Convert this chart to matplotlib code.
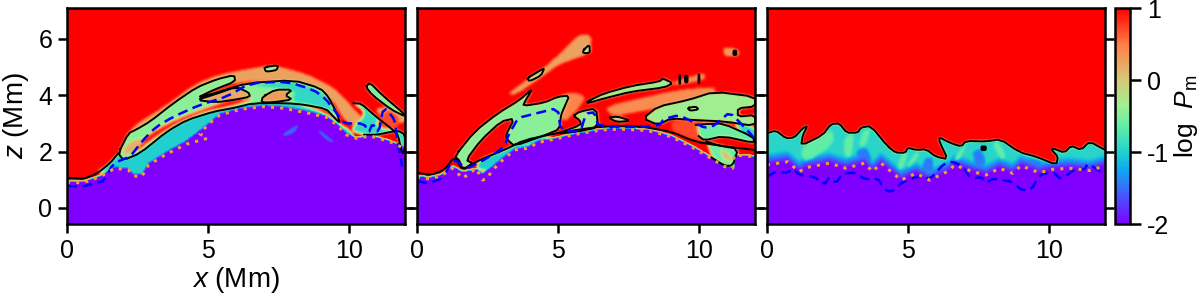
import numpy as np
import matplotlib
matplotlib.use("Agg")
import matplotlib.pyplot as plt
from matplotlib.path import Path
from matplotlib.colors import LinearSegmentedColormap, Normalize
from matplotlib.cm import ScalarMappable

plt.rcParams['font.family'] = ['Liberation Sans', 'DejaVu Sans']
plt.rcParams['mathtext.fontset'] = 'custom'
plt.rcParams['mathtext.it'] = 'Liberation Sans:italic'
plt.rcParams['mathtext.rm'] = 'Liberation Sans'

cbar_colors = ['#8000ff', '#4a50ff', '#10a8f0', '#20d0d0', '#60eea8', '#a0f090', '#d8c878', '#ff8048', '#ff0000']
cbar_stops = [0.0, 0.12, 0.25, 0.33, 0.45, 0.55, 0.67, 0.83, 1.0]
xticks = [0, 5, 10]
zticks = [0, 2, 4, 6]
cticks = [-2, -1, 0, 1]

# ---------- panel 1 (x, z in Mm) ----------
p1_surface = [(0,.9),(.58,.9),(1.17,1.11),(1.7,1.41),(2.18,1.35),(2.36,1.14),(2.65,1.11),(2.9,1.53),(3.54,1.92),(4.25,2.27),(4.98,2.47),(4.72,2.63),(5.02,2.98),(5.43,3.3),(6.15,3.5),(6.97,3.6),(7.68,3.54),(8.51,3.38),(9.22,3.22),(9.58,2.95),(9.93,2.59),(10.29,2.47),(10.76,2.56),(11.47,2.35),(12,2.1)]
p1_fill_surface = [(0,.95),(.58,.95),(1.17,1.15),(1.7,1.45),(2.18,1.4),(2.36,1.2),(2.65,1.2),(2.9,1.6),(3.54,2.0),(4.25,2.4),(5.02,3.0),(5.43,3.35),(6.15,3.55),(6.97,3.65),(7.68,3.6),(8.51,3.45),(9.22,3.28),(9.58,3.0),(9.93,2.65),(10.29,2.5),(10.76,2.6),(11.47,2.4),(12,2.15)]
p1_blue = [(0,.78),(.58,.76),(1.05,.9),(1.3,.95),(1.65,1.59),(2.24,1.82),(2.7,2.41),(3.18,2.89),(3.78,3.24),(4.72,3.66),(5.67,3.95),(6.5,4.43),(7.8,4.49),(8.75,4.19),(9.17,3.89),(9.58,3.36),(9.82,3.0),(10.55,3.0),(10.7,2.65),(10.85,3.0),(11.06,2.65),(11.24,3.6),(11.65,3.12),(11.7,2.53),(11.9,1.47)]
p1_halo = [(2.0,2.45),(2.47,2.98),(3.4,3.55),(4.6,4.42),(5.4,4.72),(6.0,4.85),(7.3,5.07),(8.5,4.75),(9.5,4.25),(10.1,3.6),(10.6,3.05),(10.3,2.9),(9.9,3.05),(9.4,3.9),(8.5,4.5),(6,4.5),(4.6,4.0)]
p1_halo2 = [(10.9,3.5),(11.4,3.6),(12,3.4),(12,3.0),(11.4,3.1)]
p1_band = [(1.0,1.2),(1.53,1.59),(1.82,1.94),(2.5,2.0),(3.5,2.75),(4.25,3.15),(5.2,3.42),(6.62,3.72),(8.0,3.75),(9.1,3.4),(9.7,2.95),(10.0,2.8),(10.2,2.5),(9.9,2.5),(9.2,3.1),(8.5,3.3),(7.68,3.5),(6.15,3.45),(5.43,3.2),(4.98,2.9),(4.25,2.3),(3.54,1.9),(2.9,1.5),(2.65,1.1),(2.36,1.1),(2.18,1.3),(1.7,1.35)]
p1_main = [(1.82,1.94),(2.18,2.65),(2.47,2.79),(2.95,3.07),(3.78,3.72),(4.6,4.28),(5.32,4.57),(5.94,4.72),(5.97,4.49),(5.2,4.19),(4.6,3.9),(5.32,4.1),(6.38,4.43),(8.04,4.54),(8.99,4.25),(9.28,3.95),(9.58,3.36),(9.7,3.0),(9.45,3.25),(9.2,3.52),(8.4,3.67),(7.8,3.72),(6.62,3.72),(5.91,3.55),(5.2,3.42),(4.25,3.12),(3.54,2.71),(2.59,1.94),(2.0,1.7)]
p1_gap = [(4.6,3.87),(5.2,4.13),(5.97,4.42),(5.8,4.36),(5.2,4.2)]
p1_cyan = [(6.4,4.42),(8.04,4.5),(8.95,4.2),(9.25,3.9),(9.55,3.3),(9.1,3.55),(8.0,3.75),(8.1,4.2),(7.0,4.3)]
p1_redstrip = [(2.35,1.9),(3.0,2.4),(3.9,3.0),(4.9,3.42),(5.9,3.62),(6.7,3.9),(5.8,3.85),(5.0,3.58),(4.0,3.2),(3.2,2.8),(2.7,2.45)]
p1_orange = [(1.95,1.82),(2.4,2.0),(2.8,2.42),(2.4,2.45),(2.05,2.2)]
p1_upper = [(4.6,3.83),(5.3,4.05),(6.0,4.3),(6.45,4.1),(6.5,3.95),(6.0,3.85),(5.3,3.75)]
p1_patch = [(6.95,3.95),(7.4,4.2),(8.0,4.2),(7.75,4.0),(8.0,3.85),(7.3,3.75),(6.9,3.75)]
p1_top = [(0,1.05),(.2,1.07),(.58,1.03),(1.05,1.21),(1.53,1.59),(1.82,1.94)]
p1_island = [(7.0,5.0),(7.5,5.07),(7.45,4.9),(7.2,4.85),(7.05,4.85)]
p1_right1 = [(10.61,4.3),(10.75,4.45),(11.2,4.0),(11.95,3.36),(12,3.25),(11.5,3.5),(10.85,4.0)]
p1_right2 = [(10.17,3.72),(10.45,3.7),(10.9,3.3),(11.6,2.75),(11.75,2.6),(11.9,1.9),(12,2.1),(12,2.6),(11.75,2.75),(11.0,2.6),(10.55,2.6),(10.05,2.75),(10.5,3.2),(10.55,3.45)]
p1_redright = [(10.95,3.0),(11.4,3.55),(11.85,3.2),(11.7,2.8),(11.2,2.8)]
p1_blue_spots = [(7.6,2.6),(8.25,3.0),(8.1,2.7),(7.8,2.55)]
p1_blue_spot2 = [(9.0,2.75),(9.5,2.35),(9.3,2.35),(8.9,2.7)]

# ---------- panel 2 ----------
p2_surface = [(0,1.11),(.44,1.03),(.85,1.14),(1.27,1.41),(1.62,1.05),(2.1,1.41),(2.33,.99),(2.51,1.05),(2.63,1.29),(3.04,1.7),(3.46,2.06),(3.93,2.12),(4.29,2.32),(5.0,2.47),(5.71,2.63),(6.54,2.77),(7.25,2.8),(8.19,2.75),(9.02,2.53),(9.73,2.18),(10.44,1.76),(10.92,1.47),(11.21,1.41),(11.27,1.88),(12,1.82)]
p2_fill_surface = [(0,1.15),(.44,1.1),(.85,1.2),(1.27,1.5),(1.62,1.3),(2.1,1.4),(2.33,1.25),(2.63,1.45),(3.04,1.8),(3.46,2.1),(3.93,2.2),(4.29,2.4),(5.0,2.52),(5.71,2.68),(6.54,2.82),(7.25,2.85),(8.19,2.8),(9.02,2.58),(9.73,2.22),(10.44,1.8),(10.92,1.5),(11.21,1.45),(11.27,1.9),(12,1.85)]
p2_blue = [(0,.95),(.4,.88),(.9,1.05),(1.3,1.75),(1.75,1.4),(2.2,1.6),(3.1,2.15),(3.25,2.6),(3.6,3.2),(4.2,3.35),(5.0,3.55),(5.1,2.75),(5.8,2.7),(6.0,3.35),(6.3,3.4),(6.45,2.85),(8.6,2.9),(8.75,3.15),(9.3,3.3),(9.9,3.0),(10.2,2.85),(10.5,2.9),(10.7,3.05),(11.1,3.4),(11.6,2.9),(12,2.45)]
p2_lower_band = [(2.2,1.7),(3.1,2.06),(3.81,2.41),(4.94,2.65),(4.3,2.35),(3.5,2.05),(3.04,1.7),(2.5,1.3),(2.1,1.4)]
p2_lower = [(.0,1.25),(.5,1.17),(.97,1.35),(1.33,1.82),(1.62,1.35),(2.21,1.7),(3.1,2.06),(3.81,2.41),(4.94,2.65),(5.71,2.78),(6.54,2.89),(7.84,2.91),(9.02,2.71),(9.85,2.36),(10.74,2.21),(12,2.06)]
p2_plume = [(3.22,4.07),(4.5,4.95),(5.3,5.7),(5.71,6.14),(6.18,6.12),(6.12,5.5),(5.0,5.1),(4.5,4.72),(3.46,4.01)]
p2_plume_right = [(10.86,5.72),(11.4,5.62),(11.4,5.4),(10.86,5.4)]
p2_streak_top = [(9.1,4.5),(10.2,4.8),(10.2,4.55),(9.1,4.35)]
p2_streak_mid = [(6.65,3.6),(8.43,4.01),(9.26,4.19),(10.56,4.3),(10.56,4.1),(8.55,3.55),(6.9,3.25)]
p2_streak_cen = [(5.0,3.95),(5.5,4.12),(6.0,3.95),(5.6,3.4),(5.15,3.0)]
p2_a = [(1.33,1.82),(2.04,2.71),(2.87,3.36),(3.64,3.83),(4.11,4.25),(3.86,3.83),(3.76,3.62),(4.52,3.74),(5.0,3.95),(5.41,3.99),(5.24,3.6),(5.11,3.3),(5.06,2.8),(4.58,2.6),(3.46,2.2),(3.22,2.41),(3.14,2.56),(3.46,3.18),(2.98,3.07),(2.27,2.41),(1.74,1.7),(1.98,1.59),(1.62,1.35),(1.5,1.7)]
p2_b = [(6.04,3.78),(6.65,4.07),(7.6,4.33),(8.61,4.49),(8.73,4.6),(9.08,4.43),(8.79,4.28),(7.6,4.13),(6.65,3.89),(6.06,3.72)]
p2_c = [(8.02,3.18),(8.55,3.6),(9.62,3.83),(10.56,4.13),(12,3.95),(12,3.6),(11.39,3.54),(11.39,3.24),(12,3.3),(12,2.91),(10.92,3.07),(9.85,3.12),(9.02,3.18),(8.55,2.95)]
p2_d = [(5.55,3.27),(5.77,3.42),(6.36,3.54),(6.43,2.86),(5.71,2.71),(4.94,2.63),(5.83,2.95),(5.77,3.12)]
p2_e = [(9.9,2.95),(10.3,2.98),(10.86,3.0),(11.92,2.53),(12,2.3),(10.86,2.55),(10.2,2.4),(10.0,2.55)]
p2_f = [(10.27,2.36),(10.74,2.21),(11.4,2.1),(11.21,1.5),(10.92,1.5),(10.44,1.8)]
p2_f_orange = [(10.7,2.1),(11.1,1.9),(11.15,1.6),(10.85,1.75)]
p2_right_cyan = [(11.2,3.05),(12,2.85),(12,2.45),(11.5,2.7)]
p2_red_patch = [(9.0,3.15),(10.9,3.05),(10.9,2.6),(10.2,2.35),(9.85,2.4),(9.02,2.7)]
p2_loop1 = [(3.9,4.6),(4.4,4.9),(4.52,4.95),(4.4,4.7),(4.0,4.5)]
p2_loop2 = [(5.9,5.6),(6.12,5.8),(6.14,5.5),(5.9,5.5)]
p2_loop3 = [(6.8,3.2),(7.1,3.25),(7.6,3.1),(7.1,3.05)]
p2_loop4 = [(9.6,3.55),(9.9,3.6),(10.0,3.5),(9.7,3.45)]
p2_dot_a = [(11.22,5.6),(11.35,5.6),(11.35,5.42),(11.22,5.42)]
p2_dot_b = [(9.3,4.72),(9.36,4.72),(9.36,4.4),(9.3,4.4)]
p2_dot_c = [(9.5,4.7),(9.62,4.7),(9.62,4.45),(9.5,4.45)]
p2_dot_d = [(9.98,4.75),(10.04,4.75),(10.04,4.42),(9.98,4.42)]

# ---------- panel 3 ----------
p3_top = [(0,2.65),(.32,2.75),(.67,2.47),(.97,2.5),(1.27,2.83),(1.44,2.91),(1.27,2.59),(1.21,2.21),(1.98,2.59),(2.27,2.98),(2.57,3.0),(2.83,2.67),(3.22,2.67),(3.34,2.86),(3.69,2.91),(4.29,2.18),(4.58,1.96),(4.91,1.96),(5.0,2.14),(5.29,2.06),(5.65,2.08),(6.0,1.82),(6.42,1.73),(6.12,2.36),(6.12,2.51),(6.48,2.32),(6.89,2.18),(7.07,2.38),(7.78,2.36),(8.29,2.44),(8.96,1.98),(9.56,1.82),(10.27,1.53),(10.33,1.82),(10.11,2.06),(10.15,2.12),(10.56,1.96),(10.8,2.21),(11.15,2.06),(11.45,2.36),(12,2.06)]
p3_surface = [(0,1.53),(.73,1.64),(1.15,1.29),(1.38,1.43),(2.21,1.59),(2.8,1.41),(3.46,1.59),(3.75,1.29),(4.05,1.59),(4.76,.99),(5.29,1.23),(5.77,.99),(6.48,1.33),(6.65,1.53),(7.3,1.29),(7.78,1.17),(8.25,1.41),(8.72,1.23),(9.02,1.5),(9.67,1.25),(10.15,1.37),(10.74,1.41),(11.45,1.33),(12,1.49)]
p3_blue = [(0,1.11),(.32,1.29),(.73,1.25),(.91,1.41),(1.15,1.17),(1.68,1.11),(2.04,.82),(2.21,1.11),(2.45,.88),(2.69,1.23),(3.16,1.25),(3.46,1.02),(3.93,1.05),(4.11,.76),(4.29,.58),(4.52,.62),(4.82,.93),(5.53,1.17),(5.77,1.0),(6.3,1.59),(6.6,1.64),(6.95,1.47),(7.25,1.02),(7.6,1.11),(7.78,.88),(8.02,1.05),(8.73,.93),(9.02,.64),(9.38,.64),(9.67,1.17),(10.15,1.29),(10.44,1.0),(10.98,1.41),(11.27,1.35),(11.39,1.59),(12,1.17)]
p3_green1 = [(1.3,2.2),(2.3,2.85),(2.4,2.3),(1.4,1.6),(1.2,1.9)]
p3_green2 = [(2.75,2.55),(3.1,2.6),(3.0,1.8),(2.75,1.8)]
p3_green3 = [(3.4,2.75),(3.7,2.8),(3.5,2.2),(3.25,2.2)]
p3_green4 = [(4.75,1.85),(5.0,2.0),(4.85,1.4),(4.6,1.4)]
p3_green5 = [(5.25,1.95),(5.45,1.95),(5.1,1.45),(4.95,1.5)]
p3_green6 = [(6.9,2.1),(7.1,2.3),(6.85,1.7),(6.6,1.7)]
p3_green7 = [(8.0,2.3),(8.2,2.4),(8.5,1.8),(8.3,1.7)]
p3_dark1 = [(3.15,2.05),(3.55,2.15),(3.75,1.65),(3.3,1.6)]
p3_dark2 = [(7.3,2.0),(7.6,2.1),(7.8,1.55),(7.4,1.5)]
p3_dark3 = [(5.6,1.8),(5.9,1.75),(5.9,1.3),(5.5,1.3)]
p3_dark4 = [(9.2,1.75),(9.7,1.7),(9.8,1.35),(9.2,1.4)]
p3_dot = [(7.6,2.2),(7.78,2.2),(7.78,2.04),(7.6,2.04)]

OPEN_LINES = [[p1_top, p1_right2[:11]], [p2_lower, p2_e, p2_f], [p3_top]]
CLOSED_LINES = [
    [p1_main, p1_upper, p1_patch, p1_island, p1_right1],
    [p2_a, p2_b, p2_c, p2_d, p2_loop1, p2_loop2, p2_loop3, p2_loop4],
    [],
]
DOT_SPOTS = [[], [p2_dot_a, p2_dot_b, p2_dot_c, p2_dot_d], [p3_dot]]
LAYERS = [
    [(p1_halo, .25), (p1_halo2, .25), (p1_band, -1.0), (p1_main, -.45), (p1_gap, 1), (p1_cyan, -.9), (p1_redstrip, .9), (p1_orange, .15), (p1_upper, .2), (p1_patch, .3), (p1_island, -.4), (p1_right1, -.55), (p1_right2, -.9), (p1_redright, .7)],
    [(p2_plume, .25), (p2_plume_right, .3), (p2_streak_top, .4), (p2_streak_mid, .4), (p2_streak_cen, .45), (p2_red_patch, .7), (p2_lower_band, -1.0), (p2_a, -.45), (p2_b, -.45), (p2_c, -.35), (p2_d, -.35), (p2_e, -.6), (p2_f, -.6), (p2_f_orange, .1), (p2_right_cyan, -.95), (p2_loop1, -.3), (p2_loop2, -.3), (p2_loop3, -.3), (p2_loop4, -.3)],
    [],
]
SURFACES = [p1_fill_surface, p2_fill_surface, p3_surface]
DOTS = [p1_surface, p2_surface, p3_surface]
BLUES = [p1_blue, p2_blue, p3_blue]

x_edges = np.linspace(0, 12, 339)
z_edges = np.linspace(-.57, 7.1, 217)
XC, ZC = np.meshgrid((x_edges[:-1] + x_edges[1:]) / 2, (z_edges[:-1] + z_edges[1:]) / 2)
PTS = np.c_[XC.ravel(), ZC.ravel()]


def rounded(poly, closed=True, n=1):
    pts = np.array(poly, float)
    for _ in range(n):
        if closed:
            a, b = pts, np.roll(pts, -1, axis=0)
            pts = np.empty((2 * len(a), 2))
            pts[0::2] = .8 * a + .2 * b
            pts[1::2] = .2 * a + .8 * b
        else:
            a, b = pts[:-1], pts[1:]
            mid = np.empty((2 * len(a), 2))
            mid[0::2] = .8 * a + .2 * b
            mid[1::2] = .2 * a + .8 * b
            pts = np.vstack([pts[:1], mid, pts[-1:]])
    return pts


def inside(poly):
    return Path(rounded(poly)).contains_points(PTS).reshape(XC.shape)


def blur(field, n=2):
    kernel = np.array([1, 2, 3, 2, 1], float)[2 - n:3 + n]
    kernel /= kernel.sum()
    pad = len(kernel) // 2
    out = np.pad(field, pad, mode='edge')
    out = np.apply_along_axis(lambda r: np.convolve(r, kernel, mode='same'), 0, out)
    out = np.apply_along_axis(lambda r: np.convolve(r, kernel, mode='same'), 1, out)
    return out[pad:-pad, pad:-pad]


def build(i):
    field = np.ones_like(XC)
    for poly, value in LAYERS[i]:
        field[inside(poly)] = value
    if i == 2:
        top = rounded(p3_top, closed=False)
        mask = Path(np.vstack([top, [(12, -1), (0, -1)]])).contains_points(PTS).reshape(field.shape)
        surf = np.interp(XC[0], *zip(*p3_surface))
        field[mask] = (-2 + (ZC[mask] - surf[np.nonzero(mask)[1]]) / .45 * 1.1).clip(-2, -.95)
        for g in (p3_green1, p3_green2, p3_green3, p3_green4, p3_green5, p3_green6, p3_green7):
            g_mask = inside(g) & mask
            field[g_mask] = np.maximum(field[g_mask], -.65)
        for d in (p3_dark1, p3_dark2, p3_dark3, p3_dark4):
            d_mask = inside(d) & mask
            field[d_mask] = np.minimum(field[d_mask], -1.45)
        field[(ZC < surf[None, :] + .02)] = -2
        return blur(field)
    sx, sz = zip(*SURFACES[i])
    surf = np.interp(XC[0], sx, sz)
    field = blur(field)
    field[ZC < surf[None, :]] = -2
    if i == 0:
        for spot in (p1_blue_spots, p1_blue_spot2):
            field[inside(spot)] = -1.55
    return blur(field, 1)


cmap = LinearSegmentedColormap.from_list('pm', list(zip(cbar_stops, cbar_colors)))
norm = Normalize(-2, 1)
fig = plt.figure(figsize=(12, 3), dpi=100)
lefts = [67, 417, 767]
for i, left in enumerate(lefts):
    ax = fig.add_axes([left / 1200, 1 - 224 / 300, 338 / 1200, 216 / 300])
    ax.imshow(build(i), origin='lower', extent=(0, 12, -.57, 7.1), cmap=cmap, norm=norm,
              aspect='auto', interpolation='bilinear')
    for line in OPEN_LINES[i]:
        pts = rounded(line, closed=False)
        ax.plot(pts[:, 0], pts[:, 1], color='k', lw=1.4, solid_joinstyle='round')
    for line in CLOSED_LINES[i]:
        pts = rounded(line)
        ax.plot(*np.vstack([pts, pts[:1]]).T, color='k', lw=1.4, solid_joinstyle='round')
    for spot in DOT_SPOTS[i]:
        ax.fill(*rounded(spot).T, color='k', lw=.8)
    pts = rounded(BLUES[i], closed=False)
    ax.plot(pts[:, 0], pts[:, 1], color='#0000ff', lw=1.8, dashes=(4, 2.2))
    dx, dz = zip(*DOTS[i])
    ax.plot(dx, dz, color='#f0a030', lw=2.2, linestyle=(0, (1, 2)))
    ax.set_xlim(0, 12)
    ax.set_ylim(-.57, 7.1)
    ax.set_xticks(xticks)
    ax.set_yticks(zticks)
    ax.tick_params(direction='out', length=6.5, width=1.8, labelsize=18, pad=4,
                   right=True, labelleft=(i == 0))
    for sp in ax.spines.values():
        sp.set_linewidth(1.8)
    if i == 0:
        ax.set_xlabel('$x$ (Mm)', fontsize=20, labelpad=2)
        ax.set_ylabel('$z$ (Mm)', fontsize=20, labelpad=5)

cax = fig.add_axes([1115 / 1200, 1 - 224 / 300, 15 / 1200, 216 / 300])
cb = fig.colorbar(ScalarMappable(norm=norm, cmap=cmap), cax=cax, ticks=cticks)
cb.ax.set_yticklabels([str(t) for t in cticks])
cb.ax.tick_params(direction='out', length=8, width=1.8, labelsize=18, pad=4)
cb.outline.set_linewidth(1.8)
cb.set_label(r'log  $P_{\mathrm{m}}$', fontsize=19, labelpad=2)
fig.savefig('out.png', dpi=100)
